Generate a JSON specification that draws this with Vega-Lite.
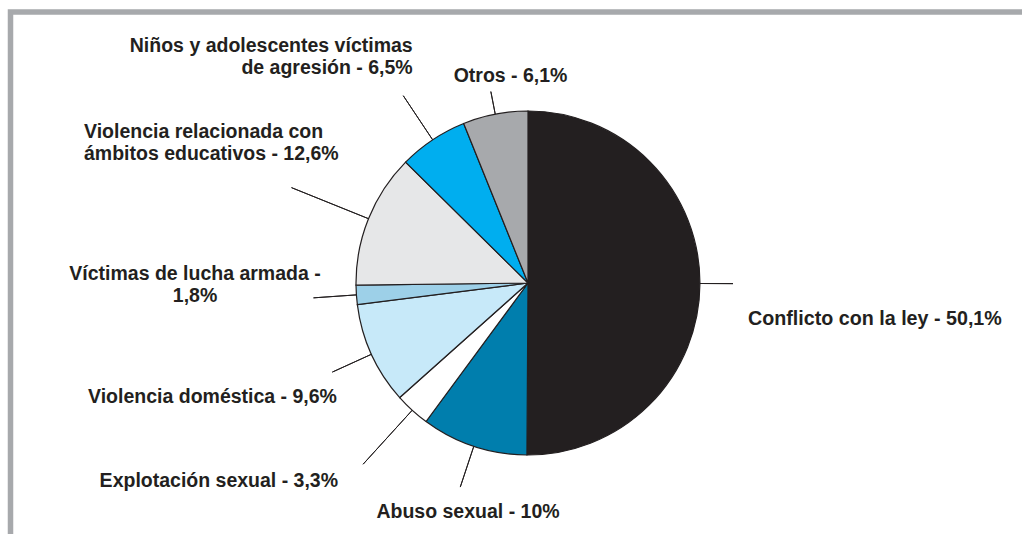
{
  "$schema": "https://vega.github.io/schema/vega-lite/v6.json",
  "width": 1035,
  "height": 542,
  "autosize": {"type": "none"},
  "padding": {"left": 10.5, "top": 12, "right": -23.5, "bottom": -20},
  "background": "white",
  "view": {"stroke": "#a7a9ac", "strokeWidth": 5.5},
  "data": {
    "values": [
      {"ord": 1, "cat": "Conflicto con la ley", "value": 50.1, "label": "Conflicto con la ley - 50,1%"},
      {"ord": 2, "cat": "Abuso sexual", "value": 10, "label": "Abuso sexual - 10%"},
      {"ord": 3, "cat": "Explotación sexual", "value": 3.3, "label": "Explotación sexual - 3,3%"},
      {"ord": 4, "cat": "Violencia doméstica", "value": 9.6, "label": "Violencia doméstica - 9,6%"},
      {"ord": 5, "cat": "Víctimas de lucha armada", "value": 1.8, "label": "Víctimas de lucha armada -\n1,8%"},
      {"ord": 6, "cat": "Violencia relacionada con ámbitos educativos", "value": 12.6, "label": "Violencia relacionada con\námbitos educativos - 12,6%"},
      {"ord": 7, "cat": "Niños y adolescentes víctimas de agresión", "value": 6.5, "label": "Niños y adolescentes víctimas\nde agresión - 6,5%"},
      {"ord": 8, "cat": "Otros", "value": 6.1, "label": "Otros - 6,1%"}
    ]
  },
  "encoding": {
    "theta": {"field": "value", "type": "quantitative", "stack": true},
    "order": {"field": "ord", "type": "quantitative"}
  },
  "layer": [
    {
      "mark": {"type": "arc", "radius": 172, "stroke": "#231f20", "strokeWidth": 1.2},
      "encoding": {
        "color": {
          "field": "cat",
          "type": "nominal",
          "legend": null,
          "scale": {
            "domain": ["Conflicto con la ley", "Abuso sexual", "Explotación sexual", "Violencia doméstica", "Víctimas de lucha armada", "Violencia relacionada con ámbitos educativos", "Niños y adolescentes víctimas de agresión", "Otros"],
            "range": ["#231f20", "#007ead", "#ffffff", "#c7e9f9", "#9dd0e8", "#e6e7e8", "#00aeef", "#a7a9ac"]
          }
        }
      }
    },
    {
      "mark": {"type": "arc", "radius": 195, "radius2": 172, "padAngle": 3.1416, "filled": false, "stroke": "#231f20", "strokeWidth": 1},
      "encoding": {"strokeOpacity": {"condition": {"test": "datum.cat === 'Otros'", "value": 1}, "value": 0}}
    },
    {
      "mark": {"type": "arc", "radius": 205, "radius2": 172, "padAngle": 3.1416, "filled": true, "fill": "#231f20", "strokeWidth": 0},
      "encoding": {"fillOpacity": {"condition": {"test": "datum.cat === 'Conflicto con la ley'", "value": 1}, "value": 0}}
    },
    {
      "mark": {"type": "arc", "radius": 215, "radius2": 172, "padAngle": 3.1416, "filled": false, "stroke": "#231f20", "strokeWidth": 1},
      "encoding": {"strokeOpacity": {"condition": {"test": "datum.cat === 'Abuso sexual' || datum.cat === 'Violencia doméstica' || datum.cat === 'Víctimas de lucha armada'", "value": 1}, "value": 0}}
    },
    {
      "mark": {"type": "arc", "radius": 225, "radius2": 172, "padAngle": 3.1416, "filled": false, "stroke": "#231f20", "strokeWidth": 1},
      "encoding": {"strokeOpacity": {"condition": {"test": "datum.cat === 'Niños y adolescentes víctimas de agresión'", "value": 1}, "value": 0}}
    },
    {
      "mark": {"type": "arc", "radius": 245, "radius2": 172, "padAngle": 3.1416, "filled": false, "stroke": "#231f20", "strokeWidth": 1},
      "encoding": {"strokeOpacity": {"condition": {"test": "datum.cat === 'Explotación sexual'", "value": 1}, "value": 0}}
    },
    {
      "mark": {"type": "arc", "radius": 255, "radius2": 172, "padAngle": 3.1416, "filled": false, "stroke": "#231f20", "strokeWidth": 1},
      "encoding": {"strokeOpacity": {"condition": {"test": "datum.cat === 'Violencia relacionada con ámbitos educativos'", "value": 1}, "value": 0}}
    },
    {
      "mark": {"type": "text", "radius": 172, "align": "left", "baseline": "alphabetic", "dx": 48, "dy": 41.5, "font": "Liberation Sans", "fontWeight": "bold", "fontSize": 19.7, "fill": "#231f20", "lineBreak": "\n", "lineHeight": 22.5},
      "encoding": {"text": {"condition": {"test": "datum.cat === 'Conflicto con la ley'", "field": "label"}, "value": ""}}
    },
    {
      "mark": {"type": "text", "radius": 172, "align": "center", "baseline": "alphabetic", "dx": -5.8, "dy": 71.8, "font": "Liberation Sans", "fontWeight": "bold", "fontSize": 19.5, "fill": "#231f20", "lineBreak": "\n", "lineHeight": 22.5},
      "encoding": {"text": {"condition": {"test": "datum.cat === 'Abuso sexual'", "field": "label"}, "value": ""}}
    },
    {
      "mark": {"type": "text", "radius": 172, "align": "right", "baseline": "alphabetic", "dx": -74.2, "dy": 76.8, "font": "Liberation Sans", "fontWeight": "bold", "fontSize": 19.5, "fill": "#231f20", "lineBreak": "\n", "lineHeight": 22.5},
      "encoding": {"text": {"condition": {"test": "datum.cat === 'Explotación sexual'", "field": "label"}, "value": ""}}
    },
    {
      "mark": {"type": "text", "radius": 172, "align": "right", "baseline": "alphabetic", "dx": -34.5, "dy": 48.7, "font": "Liberation Sans", "fontWeight": "bold", "fontSize": 19.5, "fill": "#231f20", "lineBreak": "\n", "lineHeight": 22.5},
      "encoding": {"text": {"condition": {"test": "datum.cat === 'Violencia doméstica'", "field": "label"}, "value": ""}}
    },
    {
      "mark": {"type": "text", "radius": 172, "align": "center", "baseline": "alphabetic", "dx": -161.4, "dy": -14.9, "font": "Liberation Sans", "fontWeight": "bold", "fontSize": 19.5, "fill": "#231f20", "lineBreak": "\n", "lineHeight": 22.5},
      "encoding": {"text": {"condition": {"test": "datum.cat === 'Víctimas de lucha armada'", "field": "label"}, "value": ""}}
    },
    {
      "mark": {"type": "text", "radius": 172, "align": "left", "baseline": "alphabetic", "dx": -284.5, "dy": -80.7, "font": "Liberation Sans", "fontWeight": "bold", "fontSize": 19.5, "fill": "#231f20", "lineBreak": "\n", "lineHeight": 22.5},
      "encoding": {"text": {"condition": {"test": "datum.cat === 'Violencia relacionada con ámbitos educativos'", "field": "label"}, "value": ""}}
    },
    {
      "mark": {"type": "text", "radius": 172, "align": "right", "baseline": "alphabetic", "dx": -20, "dy": -87.9, "font": "Liberation Sans", "fontWeight": "bold", "fontSize": 19.5, "fill": "#231f20", "lineBreak": "\n", "lineHeight": 22.5},
      "encoding": {"text": {"condition": {"test": "datum.cat === 'Niños y adolescentes víctimas de agresión'", "field": "label"}, "value": ""}}
    },
    {
      "mark": {"type": "text", "radius": 172, "align": "center", "baseline": "alphabetic", "dx": 15.3, "dy": -32.1, "font": "Liberation Sans", "fontWeight": "bold", "fontSize": 19.5, "fill": "#231f20", "lineBreak": "\n", "lineHeight": 22.5},
      "encoding": {"text": {"condition": {"test": "datum.cat === 'Otros'", "field": "label"}, "value": ""}}
    }
  ]
}
